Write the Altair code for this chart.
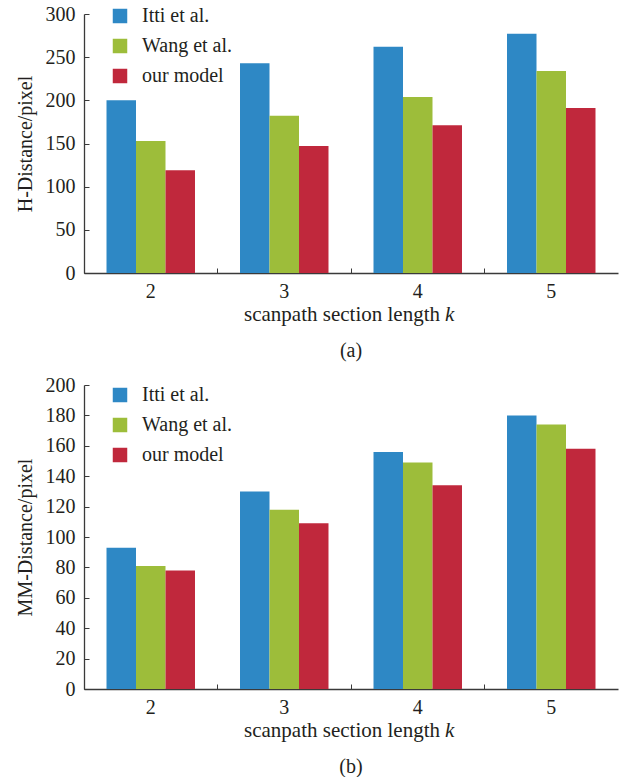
import altair as alt
import pandas as pd

FONT = "Liberation Serif"
TXT = "#231f20"
AX = "#3a3a3a"

k_values = ["2", "3", "4", "5"]
models = ["Itti et al.", "Wang et al.", "our model"]
colors = ["#2e88c5", "#9dbd3a", "#c0283c"]

h_itti = [200, 243, 262, 277]
h_wang = [153, 182, 204, 234]
h_ours = [119, 147, 171, 191]

mm_itti = [93, 130, 156, 180]
mm_wang = [81, 118, 149, 174]
mm_ours = [78, 109, 134, 158]

W = 534


def make_df(a, b, c):
    rows = []
    for series, name in zip([a, b, c], models):
        for k, v in zip(k_values, series):
            rows.append({"k": k, "model": name, "value": v})
    return pd.DataFrame(rows)


def panel(df, ytitle, ymax, ystep, height, legend_y, caption):
    bars = alt.Chart(df).mark_bar().encode(
        x=alt.X(
            "k:N",
            sort=k_values,
            scale=alt.Scale(paddingInner=0, paddingOuter=0),
            axis=alt.Axis(
                title=None,
                bandPosition=0,
                tickSize={"expr": "-5"},
                labelPadding=13,
                labelAngle=0,
                labelFont=FONT,
                labelFontSize=20,
                labelColor=TXT,
                domainColor=AX,
                domainWidth=1.3,
                tickColor=AX,
                tickWidth=1,
                grid=False,
            ),
        ),
        xOffset=alt.XOffset(
            "model:N",
            sort=models,
            scale=alt.Scale(paddingInner=0, paddingOuter=0.763),
        ),
        y=alt.Y(
            "value:Q",
            scale=alt.Scale(domain=[0, ymax], nice=False, zero=True),
            axis=alt.Axis(
                title=ytitle,
                values=list(range(0, ymax + 1, ystep)),
                tickSize={"expr": "-5"},
                labelPadding=14,
                labelFont=FONT,
                labelFontSize=20,
                labelColor=TXT,
                titleFont=FONT,
                titleFontSize=20,
                titleFontWeight="normal",
                titleColor=TXT,
                titlePadding=10,
                domainColor=AX,
                domainWidth=1.3,
                tickColor=AX,
                tickWidth=1,
                grid=False,
            ),
        ),
        color=alt.Color(
            "model:N",
            sort=models,
            scale=alt.Scale(domain=models, range=colors),
            legend=alt.Legend(
                title=None,
                orient="none",
                legendX=26,
                legendY=legend_y,
                symbolType="square",
                symbolSize=210,
                symbolStrokeWidth=0,
                labelFont=FONT,
                labelFontSize=20,
                labelColor=TXT,
                labelOffset=12,
                rowPadding=10,
            ),
        ),
    )
    t1 = alt.Chart(pd.DataFrame({"t": ["scanpath section length"]})).mark_text(
        align="right", baseline="middle", font=FONT, fontSize=21, color=TXT
    ).encode(text="t:N", x=alt.value(356), y=alt.value(height + 42))
    t2 = alt.Chart(pd.DataFrame({"t": ["k"]})).mark_text(
        align="left", baseline="middle", font=FONT, fontSize=21, fontStyle="italic", color=TXT
    ).encode(text="t:N", x=alt.value(361), y=alt.value(height + 42))
    cap = alt.Chart(pd.DataFrame({"t": [caption]})).mark_text(
        align="center", baseline="middle", font=FONT, fontSize=20, color=TXT
    ).encode(text="t:N", x=alt.value(W / 2), y=alt.value(height + 78))
    return alt.layer(bars, t1, t2, cap).properties(width=W, height=height)


top = panel(make_df(h_itti, h_wang, h_ours), "H-Distance/pixel", 300, 50, 259, -8, "(a)")
bottom = panel(make_df(mm_itti, mm_wang, mm_ours), "MM-Distance/pixel", 200, 20, 304, 0, "(b)")

chart = (
    alt.vconcat(top, bottom, spacing=14)
    .resolve_scale(color="independent")
    .properties(padding={"left": 15, "top": 4, "right": 5, "bottom": 0})
    .configure_view(stroke=None)
)

chart.save("out.html", embed_options={"renderer": "svg", "actions": False})
